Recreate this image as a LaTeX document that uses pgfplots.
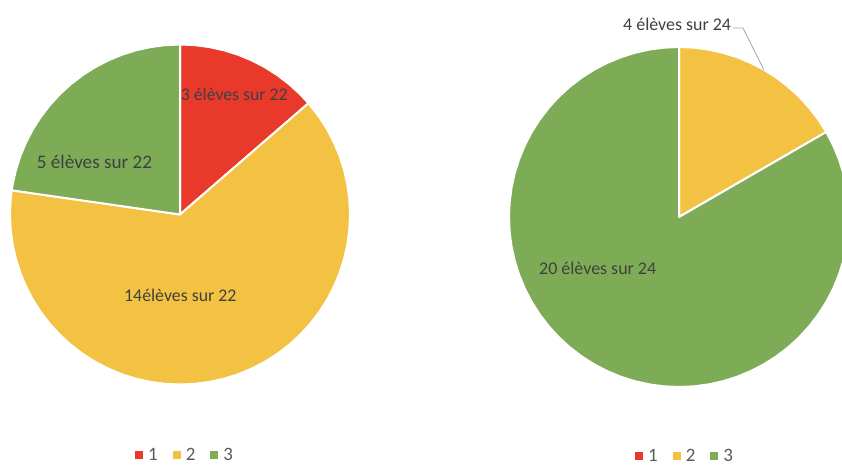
\documentclass[border=0pt]{standalone}
\usepackage{pgfplots}
\pgfplotsset{compat=1.18}
\usepackage{fontspec}
\setmainfont{Carlito}
\definecolor{cred}{HTML}{E8392B}
\definecolor{cyel}{HTML}{F4C242}
\definecolor{cgrn}{HTML}{7EAB55}
\definecolor{ltxt}{HTML}{404040}
\definecolor{lgd}{HTML}{595959}
\pgfplotsset{
  pieax/.style={
    x=1bp, y=1bp, scale only axis, hide axis,
    at={(0,0)}, anchor=south west,
    legend columns=3,
    legend image code/.code={\path[##1, draw=none] (0bp,1.6bp) rectangle (8bp,9.6bp);},
    legend style={draw=none, fill=none, inner sep=0pt, text=lgd,
      font=\fontsize{19}{21}\selectfont,
      nodes={inner sep=0pt, anchor=base west, font=\fontsize{19}{21}\selectfont, text=lgd},
      /tikz/every odd column/.append style={column sep=5bp},
      /tikz/every even column/.append style={column sep=15bp}},
  },
  slice/.style={data cs=polar, draw=white, line width=2bp, line join=round, fill=#1},
}
\begin{document}
\begin{tikzpicture}
\useasboundingbox (0,0) rectangle (842bp,465bp);
% ---------------- chart 1 : 3, 14, 5 out of 22
\begin{axis}[pieax, xmin=-180, xmax=662, ymin=-250.5, ymax=214.5,
  legend style={at={(0.1603,0.0215)}, anchor=west}]
\addplot[slice=cred] coordinates {(0,0) (90,170) (85,170) (80,170) (75,170) (70,170) (65,170) (60,170) (55,170) (50,170) (45,170) (40.91,170)} -- cycle;
\addlegendentry{1}
\addplot[slice=cyel] coordinates {(0,0) (40.91,170) (35,170) (30,170) (25,170) (20,170) (15,170) (10,170) (5,170) (0,170) (-5,170) (-10,170) (-15,170) (-20,170) (-25,170) (-30,170) (-35,170) (-40,170) (-45,170) (-50,170) (-55,170) (-60,170) (-65,170) (-70,170) (-75,170) (-80,170) (-85,170) (-90,170) (-95,170) (-100,170) (-105,170) (-110,170) (-115,170) (-120,170) (-125,170) (-130,170) (-135,170) (-140,170) (-145,170) (-150,170) (-155,170) (-160,170) (-165,170) (-170,170) (-175,170) (-180,170) (-185,170) (-188.18,170)} -- cycle;
\addlegendentry{2}
\addplot[slice=cgrn] coordinates {(0,0) (171.82,170) (170,170) (165,170) (160,170) (155,170) (150,170) (145,170) (140,170) (135,170) (130,170) (125,170) (120,170) (115,170) (110,170) (105,170) (100,170) (95,170) (90,170)} -- cycle;
\addlegendentry{3}
\node[anchor=base west, inner sep=0pt, text=ltxt, font=\fontsize{17.8}{20}\selectfont] at (axis cs:0.7,114.5) {3 élèves sur 22};
\node[anchor=base west, inner sep=0pt, text=ltxt, font=\fontsize{19.2}{22}\selectfont] at (axis cs:-143.3,46.5) {5 élèves sur 22};
\node[anchor=base west, inner sep=0pt, text=ltxt, font=\fontsize{17.9}{20}\selectfont] at (axis cs:-56,-86.5) {14élèves sur 22};
\end{axis}
% ---------------- chart 2 : 0, 4, 20 out of 24
\begin{axis}[pieax, xmin=-679, xmax=163, ymin=-248, ymax=217,
  legend style={at={(0.7542,0.0185)}, anchor=west}]
\addplot[slice=cred] coordinates {(0,0) (90,0)} -- cycle;
\addlegendentry{1}
\addplot[slice=cyel] coordinates {(0,0) (90,170) (85,170) (80,170) (75,170) (70,170) (65,170) (60,170) (55,170) (50,170) (45,170) (40,170) (35,170) (30,170)} -- cycle;
\addlegendentry{2}
\addplot[slice=cgrn] coordinates {(0,0) (30,170) (25,170) (20,170) (15,170) (10,170) (5,170) (0,170) (-5,170) (-10,170) (-15,170) (-20,170) (-25,170) (-30,170) (-35,170) (-40,170) (-45,170) (-50,170) (-55,170) (-60,170) (-65,170) (-70,170) (-75,170) (-80,170) (-85,170) (-90,170) (-95,170) (-100,170) (-105,170) (-110,170) (-115,170) (-120,170) (-125,170) (-130,170) (-135,170) (-140,170) (-145,170) (-150,170) (-155,170) (-160,170) (-165,170) (-170,170) (-175,170) (-180,170) (-185,170) (-190,170) (-195,170) (-200,170) (-205,170) (-210,170) (-215,170) (-220,170) (-225,170) (-230,170) (-235,170) (-240,170) (-245,170) (-250,170) (-255,170) (-260,170) (-265,170) (-270,170)} -- cycle;
\addlegendentry{3}
\addplot[color=gray!70, line width=0.75bp, forget plot] coordinates {(54,189) (64,189) (85,147)};
\node[anchor=base west, inner sep=0pt, text=ltxt, font=\fontsize{18}{20}\selectfont] at (axis cs:-56,186.3) {4 élèves sur 24};
\node[anchor=base west, inner sep=0pt, text=ltxt, font=\fontsize{18}{20}\selectfont] at (axis cs:-140,-58) {20 élèves sur 24};
\end{axis}
\end{tikzpicture}
\end{document}
